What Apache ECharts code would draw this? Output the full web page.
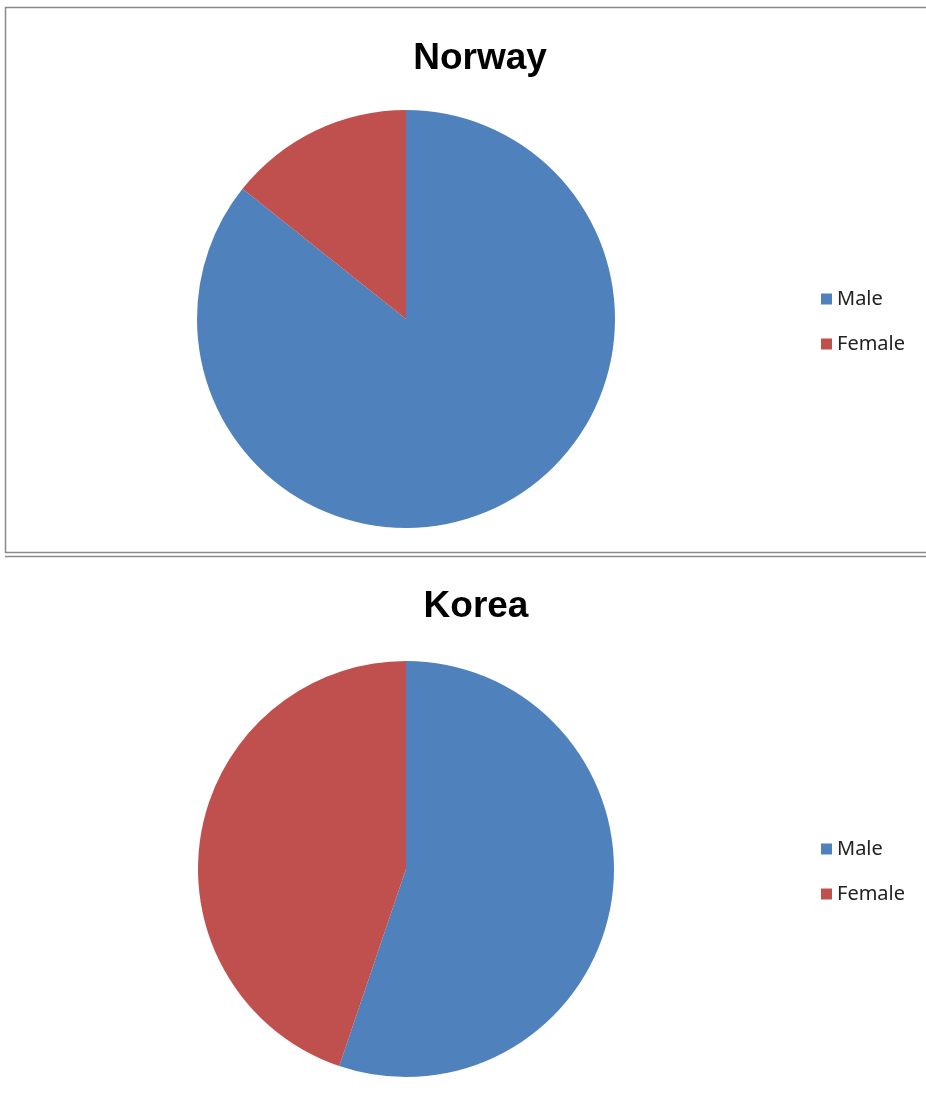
<!DOCTYPE html>
<html><head><meta charset="utf-8">
<script src="https://cdn.jsdelivr.net/npm/echarts@6/dist/echarts.min.js"></script>
<style>html,body{margin:0;padding:0;background:#fff}#c{width:926px;height:1097px}</style>
</head><body><div id="c"></div>
<script>
const categories = ['Male', 'Female'];
const norwayValues = [85.7, 14.3];
const koreaValues = [55.2, 44.8];
const titles = ['Norway', 'Korea'];
const colors = ['#4F81BD', '#C0504D'];

const chart = echarts.init(document.getElementById('c'), null, {renderer: 'canvas'});
const toData = vals => categories.map((n, i) => ({name: n, value: vals[i]}));
const legendText = {fontFamily: 'Noto Sans', fontSize: 20, color: '#222'};
const titleText = {fontFamily: 'Liberation Sans', fontWeight: 'bold', fontSize: 37, color: '#000'};
chart.setOption({
  animation: false,
  color: colors,
  graphic: [
    {type: 'rect', shape: {x: 5.5, y: 7.5, width: 940, height: 545}, style: {fill: 'none', stroke: '#8a8a8a', lineWidth: 1.5}},
    {type: 'line', shape: {x1: 5, y1: 556.5, x2: 926, y2: 556.5}, style: {stroke: '#8a8a8a', lineWidth: 1.5}}
  ],
  title: [
    {text: titles[0], left: 475, top: 35, textAlign: 'center', textStyle: titleText},
    {text: titles[1], left: 471, top: 583, textAlign: 'center', textStyle: titleText}
  ],
  legend: [
    {seriesIndex: 0, data: categories, orient: 'vertical', left: 816, top: 284, itemWidth: 11, itemHeight: 11, itemGap: 25, icon: 'rect', textStyle: legendText},
    {seriesIndex: 1, data: categories, orient: 'vertical', left: 816, top: 834, itemWidth: 11, itemHeight: 11, itemGap: 25, icon: 'rect', textStyle: legendText}
  ],
  series: [
    {type: 'pie', name: titles[0], center: [406, 319], radius: 209, startAngle: 90, clockwise: true, label: {show: false}, labelLine: {show: false}, itemStyle: {borderWidth: 0}, emphasis: {disabled: true}, data: toData(norwayValues)},
    {type: 'pie', name: titles[1], center: [406, 869], radius: 208, startAngle: 90, clockwise: true, label: {show: false}, labelLine: {show: false}, itemStyle: {borderWidth: 0}, emphasis: {disabled: true}, data: toData(koreaValues)}
  ]
});
</script></body></html>
